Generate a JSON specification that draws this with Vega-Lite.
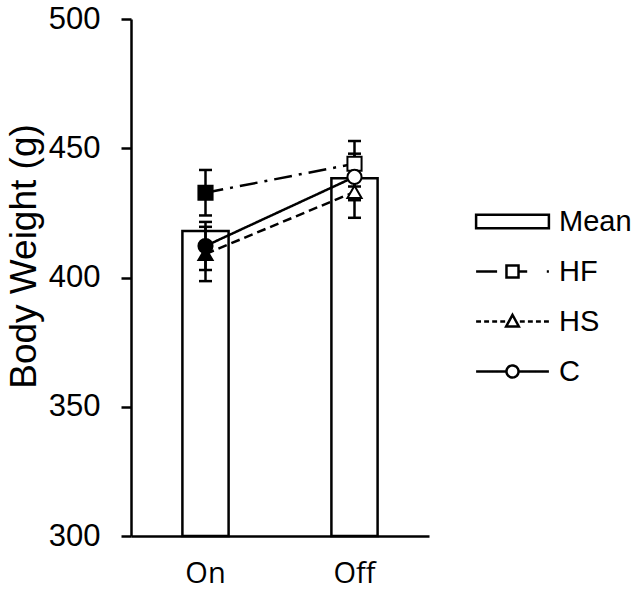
{
  "$schema": "https://vega.github.io/schema/vega-lite/v6.json",
  "width": 298,
  "height": 517,
  "padding": {"left": 5, "top": 3, "right": 0, "bottom": 10},
  "background": "white",
  "config": {
    "view": {"stroke": null},
    "axis": {"grid": false, "domainColor": "black", "domainWidth": 2.5, "tickColor": "black", "tickWidth": 2.5, "labelColor": "black", "titleColor": "black"}
  },
  "datasets": {
    "bars": [
      {"phase": "On", "mean": 418.0},
      {"phase": "Off", "mean": 438.4}
    ],
    "groups": [
      {"phase": "On", "group": "HF", "value": 432.8, "lo": 424.0, "hi": 441.6},
      {"phase": "Off", "group": "HF", "value": 444.0, "lo": 435.2, "hi": 452.8},
      {"phase": "On", "group": "HS", "value": 409.1, "lo": 398.6, "hi": 419.6},
      {"phase": "Off", "group": "HS", "value": 433.1, "lo": 423.1, "hi": 443.1},
      {"phase": "On", "group": "C", "value": 412.2, "lo": 402.9, "hi": 421.5},
      {"phase": "Off", "group": "C", "value": 438.9, "lo": 429.9, "hi": 447.9}
    ]
  },
  "encoding": {
    "x": {
      "field": "phase", "type": "nominal", "sort": ["On", "Off"],
      "scale": {"paddingInner": 0.69, "paddingOuter": 0.345},
      "axis": {"title": null, "labelAngle": 0, "ticks": false, "tickSize": 0, "labelPadding": 23, "labelFont": "Open Sans", "labelFontSize": 29}
    }
  },
  "layer": [
    {
      "data": {"name": "bars"},
      "mark": {"type": "bar", "fill": "white", "stroke": "black", "strokeWidth": 2.5},
      "encoding": {
        "y": {
          "field": "mean", "type": "quantitative",
          "scale": {"domain": [300, 500], "nice": false, "zero": false},
          "axis": {"title": "Body Weight (g)", "values": [300, 350, 400, 450, 500], "tickSize": 10, "labelPadding": 21, "labelFont": "Liberation Sans", "labelFontSize": 31, "titleFont": "Liberation Sans", "titleFontSize": 37, "titleFontWeight": "normal", "titlePadding": 5, "titleY": 237}
        },
        "y2": {"datum": 300}
      }
    },
    {
      "data": {"name": "groups"},
      "mark": {"type": "line", "color": "black"},
      "encoding": {
        "y": {"field": "value", "type": "quantitative"},
        "strokeDash": {
          "field": "group", "type": "nominal",
          "scale": {"domain": ["HF", "HS", "C"], "range": [[18, 7, 3, 7], [9, 5], [1, 0]]},
          "legend": null
        },
        "strokeWidth": {
          "field": "group", "type": "nominal",
          "scale": {"domain": ["Mean", "HF", "HS", "C"], "range": [2.5, 2.5, 2.5, 2.5]},
          "legend": {
            "orient": "none", "legendX": 367, "legendY": 188, "title": null, "padding": 0,
            "symbolSize": 196, "symbolStrokeColor": "black", "symbolFillColor": "white", "symbolDash": [1, 0],
            "symbolType": {"expr": "datum.value === 'Mean' ? 'M-5.2,-0.95H5.2V0.95H-5.2Z' : datum.value === 'HF' ? 'M-5.2,0H-2.2M-0.86,-0.86H0.86V0.86H-0.86ZM0.86,0H2.1M4.9,0H5.2' : datum.value === 'HS' ? 'M-5.2,0H-4.5M-4.05,0H-3.35M-2.9,0H-2.2M-1.75,0H-1.05M0,-0.95L0.9,0.7L-0.9,0.7ZM1.05,0H1.75M2.2,0H2.9M3.35,0H4.05M4.5,0H5.2' : 'M-5.2,0H-0.86M0.86,0H5.2M-0.86,0A0.86,0.86,0,1,1,0.86,0A0.86,0.86,0,1,1,-0.86,0Z'"},
            "symbolOffset": 0, "labelOffset": 32, "labelFont": "Liberation Sans", "labelFontSize": 29, "labelColor": "black", "rowPadding": 20
          }
        }
      }
    },
    {
      "data": {"name": "groups"},
      "mark": {"type": "rule", "color": "black", "strokeWidth": 2.5},
      "encoding": {
        "y": {"field": "lo", "type": "quantitative"},
        "y2": {"field": "hi"}
      }
    },
    {
      "data": {"name": "groups"},
      "mark": {"type": "tick", "orient": "horizontal", "size": 13, "thickness": 2.5, "color": "black", "opacity": 1},
      "encoding": {"y": {"field": "lo", "type": "quantitative"}}
    },
    {
      "data": {"name": "groups"},
      "mark": {"type": "tick", "orient": "horizontal", "size": 13, "thickness": 2.5, "color": "black", "opacity": 1},
      "encoding": {"y": {"field": "hi", "type": "quantitative"}}
    },
    {
      "data": {"name": "groups"},
      "mark": {"type": "point", "filled": true, "size": 200, "stroke": "black", "strokeWidth": 2, "opacity": 1},
      "encoding": {
        "y": {"field": "value", "type": "quantitative"},
        "shape": {"field": "group", "type": "nominal", "scale": {"domain": ["HF", "HS", "C"], "range": ["square", "triangle-up", "circle"]}, "legend": null},
        "fill": {"condition": {"test": "datum.phase === 'On'", "value": "black"}, "value": "white"}
      }
    }
  ]
}
